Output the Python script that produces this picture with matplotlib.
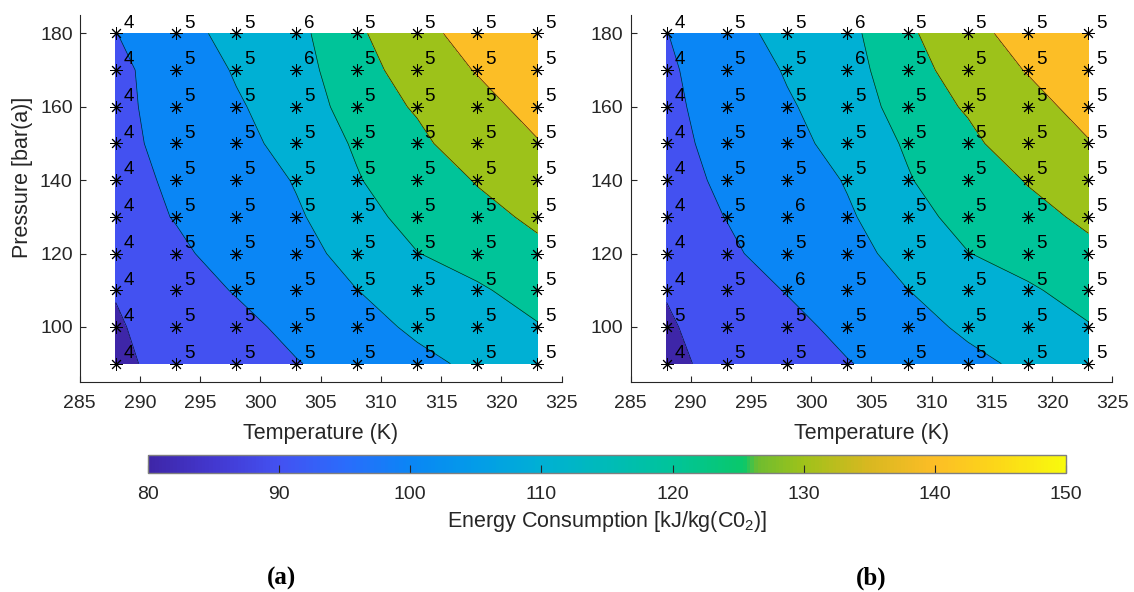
import numpy as np
import matplotlib.pyplot as plt
from matplotlib.colors import LinearSegmentedColormap, Normalize
from matplotlib.cm import ScalarMappable

plt.rcParams['font.family'] = ['Liberation Sans', 'DejaVu Sans']
plt.rcParams['mathtext.default'] = 'regular'

# Grid of the simulations
temperature = [288, 293, 298, 303, 308, 313, 318, 323]
pressure = [90, 100, 110, 120, 130, 140, 150, 160, 170, 180]

# Energy consumption [kJ/kg(CO2)], one row per pressure (90 -> 180)
energy_a = [
    [87.0, 94.9, 96.5, 99.5, 104.0, 108.0, 111.6, 115.0],
    [89.8, 90.9, 97.0, 102.8, 107.0, 111.4, 115.5, 119.0],
    [90.1, 95.0, 100.7, 105.5, 109.9, 114.0, 118.0, 126.0],
    [93.0, 98.5, 103.2, 107.0, 113.0, 119.6, 126.3, 128.5],
    [96.4, 100.4, 104.5, 109.2, 114.2, 125.4, 128.0, 131.2],
    [96.8, 101.5, 106.0, 110.5, 119.3, 126.3, 130.4, 136.0],
    [98.2, 102.0, 107.0, 113.5, 121.1, 127.5, 136.4, 139.5],
    [98.2, 103.0, 109.0, 114.6, 124.2, 131.1, 137.0, 143.0],
    [98.1, 104.0, 110.8, 116.3, 126.0, 134.7, 140.5, 146.0],
    [99.8, 106.5, 113.0, 117.3, 128.5, 136.8, 144.1, 148.0],
]
energy_b = [
    [87.0, 94.0, 96.5, 99.5, 104.0, 108.0, 111.6, 115.0],
    [89.8, 90.8, 97.0, 102.8, 107.0, 111.4, 115.5, 119.0],
    [90.1, 95.0, 100.5, 105.5, 109.9, 114.0, 118.0, 126.0],
    [93.0, 98.7, 103.2, 107.0, 113.0, 119.6, 126.3, 128.5],
    [96.4, 100.2, 104.5, 109.2, 114.2, 125.4, 128.0, 131.2],
    [96.9, 101.5, 106.0, 110.5, 119.3, 126.3, 130.4, 136.0],
    [98.2, 102.0, 107.0, 113.5, 121.1, 127.5, 136.4, 139.5],
    [98.5, 103.0, 109.0, 114.6, 124.2, 131.1, 137.0, 143.0],
    [98.9, 104.0, 110.8, 116.3, 126.0, 134.7, 140.5, 146.0],
    [99.8, 106.5, 113.0, 117.3, 128.5, 136.8, 144.1, 148.0],
]

# Number written next to every point
labels_a = [
    [4, 5, 5, 5, 5, 5, 5, 5],
    [4, 5, 5, 5, 5, 5, 5, 5],
    [4, 5, 5, 5, 5, 5, 5, 5],
    [4, 5, 5, 5, 5, 5, 5, 5],
    [4, 5, 5, 5, 5, 5, 5, 5],
    [4, 5, 5, 5, 5, 5, 5, 5],
    [4, 5, 5, 5, 5, 5, 5, 5],
    [4, 5, 5, 5, 5, 5, 5, 5],
    [4, 5, 5, 6, 5, 5, 5, 5],
    [4, 5, 5, 6, 5, 5, 5, 5],
]
labels_b = [
    [4, 5, 5, 5, 5, 5, 5, 5],
    [5, 5, 5, 5, 5, 5, 5, 5],
    [4, 5, 6, 5, 5, 5, 5, 5],
    [4, 6, 5, 5, 5, 5, 5, 5],
    [4, 5, 6, 5, 5, 5, 5, 5],
    [4, 5, 5, 5, 5, 5, 5, 5],
    [4, 5, 5, 5, 5, 5, 5, 5],
    [4, 5, 5, 5, 5, 5, 5, 5],
    [4, 5, 5, 6, 5, 5, 5, 5],
    [4, 5, 5, 6, 5, 5, 5, 5],
]

levels = [80, 90, 100, 110, 120, 130, 140, 150]
cbar_ticks = [80, 90, 100, 110, 120, 130, 140, 150]

# parula-like colormap
anchors = [
    (80, '#3e26a8'), (85, '#4338d0'), (90, '#4352f2'), (95, '#2a6cfb'),
    (100, '#0a86f5'), (105, '#039ce8'), (110, '#00b0d4'), (115, '#00bbb8'),
    (120, '#00c49a'), (125.5, '#0ac86a'), (126.5, '#6ebc30'), (130, '#9ec21a'),
    (135, '#d8b820'), (140, '#fcbd26'), (145, '#fcd818'), (150, '#f8fa0d'),
]
norm = Normalize(80, 150)
cmap = LinearSegmentedColormap.from_list(
    'parula_like', [(norm(v), c) for v, c in anchors])
band_colors = [cmap(norm(l)) for l in levels[:-1]]

fig = plt.figure(figsize=(11.34, 5.92), dpi=100)
ax_a = fig.add_axes([0.0702, 0.3547, 0.425, 0.6199])
ax_b = fig.add_axes([0.556, 0.3547, 0.425, 0.6199])
cax = fig.add_axes([0.1305, 0.201, 0.8095, 0.0304])

T, P = np.meshgrid(temperature, pressure)

for ax, energy, labels in [(ax_a, energy_a, labels_a), (ax_b, energy_b, labels_b)]:
    Z = np.array(energy)
    ax.contourf(T, P, Z, levels=levels, colors=band_colors)
    ax.contour(T, P, Z, levels=levels[1:-1], colors='k', linewidths=0.5, alpha=0.8)
    ax.plot(T.ravel(), P.ravel(), linestyle='none', marker=(8, 2, 0),
            markersize=9, markeredgecolor='k', markeredgewidth=0.7)
    for i, p in enumerate(pressure):
        for j, t in enumerate(temperature):
            ax.text(t + 0.64, p + 1.55, str(labels[i][j]), fontsize=13.5,
                    ha='left', va='baseline', color='k')

    ax.set_xlim(285, 325)
    ax.set_ylim(85, 185)
    ax.set_xticks(range(285, 326, 5))
    ax.set_yticks(range(100, 181, 20))
    ax.spines['top'].set_visible(False)
    ax.spines['right'].set_visible(False)
    for s in ['left', 'bottom']:
        ax.spines[s].set_color('#262626')
        ax.spines[s].set_linewidth(0.8)
    ax.tick_params(direction='in', length=4, width=0.8, labelsize=14,
                   colors='#262626')
    ax.tick_params(axis='x', pad=9)
    ax.tick_params(axis='y', pad=5)
    ax.set_xlabel('Temperature (K)', fontsize=15.5, color='#262626', va='center')
    ax.xaxis.set_label_coords(0.5, -0.139)

ax_a.set_ylabel('Pressure [bar(a)]', fontsize=15.5, color='#262626', va='center')
ax_a.yaxis.set_label_coords(-0.1195, 0.559)

# Colorbar
sm = ScalarMappable(norm=norm, cmap=cmap)
cb = fig.colorbar(sm, cax=cax, orientation='horizontal')
cb.set_ticks(cbar_ticks)
cb.outline.set_edgecolor('#7f7f7f')
cb.outline.set_linewidth(1.0)
cax.tick_params(direction='in', length=6, width=0.8, labelsize=14, pad=9,
                colors='#262626')
cax.set_xlabel('Energy Consumption [kJ/kg(C0$_2$)]', fontsize=15.5,
               color='#262626', va='center')
cax.xaxis.set_label_coords(0.5, -2.72)

# Panel captions
fig.text(281 / 1134, 1 - 578 / 592, '(a)', ha='center', va='center', fontsize=18,
         fontweight='bold', family='Liberation Serif')
fig.text(871 / 1134, 1 - 578 / 592, '(b)', ha='center', va='center', fontsize=18,
         fontweight='bold', family='Liberation Serif')

fig.savefig('out.png', dpi=100)
